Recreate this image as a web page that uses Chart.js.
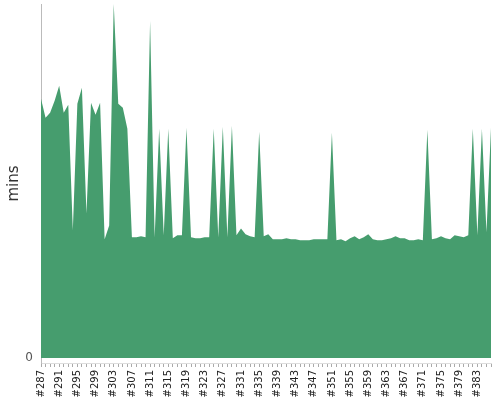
<!DOCTYPE html>
<html>
<head>
<meta charset="utf-8">
<script src="https://cdn.jsdelivr.net/npm/chart.js@4"></script>
<style>
  html, body { margin: 0; padding: 0; background: #fff; }
  #wrap { width: 500px; height: 400px; }
</style>
</head>
<body>
<div id="wrap"><canvas id="buildChart"></canvas></div>
<script>
// build numbers #287 .. #386
const firstBuild = 287;
const buildCount = 100;
const builds = [];
for (let i = 0; i < buildCount; i++) builds.push('#' + (firstBuild + i));

// build duration in minutes
const durations = [
  26.0, 24.1, 24.6, 25.8, 27.3, 24.6, 25.4, 12.8, 25.5, 27.1,
  14.5, 25.6, 24.4, 25.6, 11.9, 13.3, 35.5, 25.5, 25.1, 23.0,
  12.1, 12.1, 12.2, 12.1, 33.8, 12.1, 23.0, 12.3, 23.0, 12.0,
  12.3, 12.3, 23.1, 12.1, 12.0, 12.0, 12.1, 12.1, 23.0, 12.1,
  23.2, 12.1, 23.3, 12.3, 13.0, 12.4, 12.2, 12.1, 22.7, 12.2,
  12.4, 11.9, 11.9, 11.9, 12.0, 11.9, 11.9, 11.8, 11.8, 11.8,
  11.9, 11.9, 11.9, 11.9, 22.6, 11.8, 11.9, 11.7, 12.0, 12.2,
  11.9, 12.1, 12.4, 11.9, 11.8, 11.8, 11.9, 12.0, 12.2, 12.0,
  12.0, 11.8, 11.8, 11.9, 11.8, 22.9, 11.9, 12.0, 12.2, 12.0,
  11.9, 12.3, 12.2, 12.1, 12.3, 23.0, 12.3, 23.0, 12.6, 23.1
];

const yTicks = [0];
const fillColor = '#469d6e';

const ctx = document.getElementById('buildChart').getContext('2d');

new Chart(ctx, {
  type: 'line',
  data: {
    labels: builds,
    datasets: [{
      label: 'mins',
      data: durations,
      fill: 'origin',
      backgroundColor: fillColor,
      borderColor: fillColor,
      borderWidth: 0,
      pointRadius: 0,
      tension: 0
    }]
  },
  options: {
    responsive: true,
    maintainAspectRatio: false,
    animation: false,
    layout: { padding: { top: 4, right: 9, left: 5, bottom: 0 } },
    plugins: {
      legend: { display: false },
      tooltip: { enabled: false }
    },
    scales: {
      x: {
        offset: false,
        grid: {
          display: true,
          drawOnChartArea: false,
          drawTicks: true,
          tickLength: 4,
          color: '#aaa'
        },
        border: { display: true, color: '#ddd' },
        ticks: {
          autoSkip: false,
          minRotation: 90,
          maxRotation: 90,
          padding: 3,
          color: '#222',
          font: { family: 'DejaVu Sans', size: 10 },
          callback: function (val, i) {
            return i % 4 === 0 ? this.getLabelForValue(val) : '';
          }
        },
        afterFit: (scale) => {
          scale.height = 37;
          scale.paddingLeft = 0;
          scale.paddingRight = 0;
        }
      },
      y: {
        min: -0.5,
        max: 35.5,
        grid: { display: false },
        border: { display: true, color: '#bbb' },
        afterBuildTicks: (scale) => {
          scale.ticks = yTicks.map(v => ({ value: v }));
        },
        ticks: {
          color: '#555',
          padding: 0,
          font: { family: 'DejaVu Sans', size: 12 }
        },
        title: {
          display: true,
          text: 'mins',
          color: '#333',
          padding: 0,
          font: { family: 'DejaVu Sans', size: 15 }
        },
        afterFit: (scale) => {
          scale.width = 36;
          scale.paddingTop = 0;
          scale.paddingBottom = 0;
        }
      }
    }
  }
});
</script>
</body>
</html>
